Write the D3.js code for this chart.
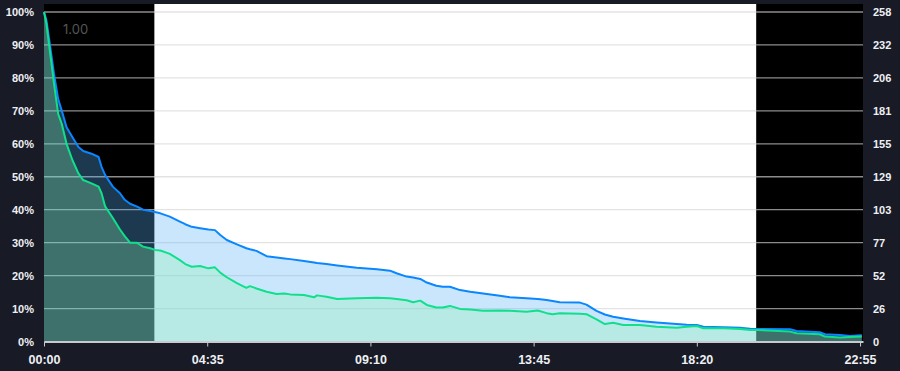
<!DOCTYPE html>
<html>
<head>
<meta charset="utf-8">
<script src="https://cdn.jsdelivr.net/npm/d3@7"></script>
<style>
  html, body { margin: 0; padding: 0; background: #181a25; }
  svg { display: block; font-family: Inter, "Noto Sans", sans-serif; }
  .axis text { fill: #eef0f4; font-weight: 600; }
  .axis path, .axis line { stroke: #c8cad0; }
</style>
</head>
<body>
<svg id="chart"></svg>
<script>
// time of day in minutes since 00:00
const minutes = [0, 4, 10, 17, 24, 30, 38, 48, 58, 66, 80, 92, 97, 103, 116, 128, 136, 145, 156, 167,
  179, 187, 196, 212, 229, 238, 249, 263, 277, 288, 297, 308, 325, 341, 347, 358, 375, 392, 405, 415,
  438, 455, 460, 476, 494, 527, 561, 583, 594, 611, 622, 634, 645, 661, 672, 684, 701, 718, 740, 768,
  785, 813, 832, 847, 857, 869, 903, 914, 931, 945, 959, 976, 1004, 1032, 1066, 1083, 1100, 1111, 1145, 1173,
  1190, 1201, 1257, 1268, 1307, 1316, 1341, 1358, 1378];
// blue series, % of 258
const totalPct = [100, 97.5, 90, 81, 73.5, 70, 65, 62, 59, 57.8, 57, 56, 53, 50.5, 47, 45, 43, 41.8, 41, 40,
  39.6, 39.3, 38.9, 37.9, 36.4, 35.6, 34.8, 34.4, 34.0, 33.8, 32.3, 30.8, 29.5, 28.3, 28.0, 27.5, 25.9, 25.5, 25.2, 25.0,
  24.4, 24.0, 23.8, 23.5, 23.1, 22.4, 21.9, 21.5, 20.7, 19.7, 19.4, 19.0, 17.9, 16.9, 16.6, 16.6, 15.6, 15.1, 14.6, 13.9,
  13.4, 13.1, 12.9, 12.6, 12.3, 11.9, 11.8, 11.2, 9.3, 8.2, 7.5, 7.0, 6.2, 5.8, 5.3, 5.1, 5.0, 4.5, 4.3, 4.2,
  3.9, 3.8, 3.7, 3.2, 2.8, 2.2, 2.0, 1.7, 1.9];
// green series, % of 258
const subsetPct = [100, 96.5, 88, 78, 69, 66, 60, 55, 51, 49, 48, 47, 45, 41, 37.5, 34, 32, 30, 30, 28.8,
  28.3, 27.8, 27.6, 26.6, 24.7, 23.5, 22.7, 22.9, 22.2, 22.5, 20.9, 19.5, 17.7, 16.3, 16.8, 16.1, 15.1, 14.4, 14.6, 14.3,
  14.1, 13.4, 14.0, 13.6, 12.9, 13.1, 13.3, 13.1, 12.9, 12.5, 11.9, 12.4, 11.1, 10.3, 10.3, 10.8, 9.9, 9.7, 9.3, 9.4,
  9.3, 9.0, 9.4, 8.6, 8.3, 8.6, 8.4, 8.3, 6.7, 5.3, 5.7, 5.0, 5.0, 4.5, 4.2, 4.5, 4.7, 4.0, 4.0, 3.8,
  3.5, 3.5, 3.0, 2.5, 2.2, 1.5, 1.2, 1.4, 1.5];

const xDomain = [0, 1380];
const darkBands = [[0, 186], [1200, 1380]];
const lightBands = [[186, 1200]];
const xTickMinutes = [0, 275, 550, 825, 1100, 1375];
const xTickLabels = ["00:00", "04:35", "09:10", "13:45", "18:20", "22:55"];
const pctTicks = [0, 10, 20, 30, 40, 50, 60, 70, 80, 90, 100];
const countMax = 258;
const cornerLabel = "1.00";

const data = minutes.map((m, i) => ({t: m, total: totalPct[i], subset: subsetPct[i]}));

const config = {
  containerWidth: 900,
  containerHeight: 371,
  margin: {top: 4, right: 37, bottom: 29.5, left: 44}
};
const width = config.containerWidth - config.margin.left - config.margin.right;
const height = config.containerHeight - config.margin.top - config.margin.bottom;

const svg = d3.select('#chart')
    .attr('width', config.containerWidth)
    .attr('height', config.containerHeight);

const chart = svg.append('g')
    .attr('transform', `translate(${config.margin.left},${config.margin.top})`);

const xScale = d3.scaleLinear().domain(xDomain).range([0, width]);
const yScale = d3.scaleLinear().domain([0, 100]).range([height, 8]);
const countScale = d3.scaleLinear().domain([0, countMax]).range([height, 8]);

// background bands
chart.selectAll('.band-dark')
    .data(darkBands)
    .join('rect')
      .attr('class', 'band-dark')
      .attr('x', d => xScale(d[0]))
      .attr('width', d => xScale(d[1]) - xScale(d[0]))
      .attr('y', 0)
      .attr('height', height)
      .attr('fill', '#000');

chart.selectAll('.band-light')
    .data(lightBands)
    .join('rect')
      .attr('class', 'band-light')
      .attr('x', d => xScale(d[0]))
      .attr('width', d => xScale(d[1]) - xScale(d[0]))
      .attr('y', 0)
      .attr('height', height)
      .attr('fill', '#fff');

// grid lines, coloured per band
const gridSets = [
  {bands: darkBands, color: '#8c8c8c'},
  {bands: lightBands, color: '#e3e3e3'}
];
gridSets.forEach(set => {
  set.bands.forEach(b => {
    chart.append('g')
        .selectAll('line')
        .data(pctTicks.filter(d => d > 0))
        .join('line')
          .attr('x1', xScale(b[0]))
          .attr('x2', xScale(b[1]))
          .attr('y1', d => yScale(d))
          .attr('y2', d => yScale(d))
          .attr('stroke', set.color)
          .attr('stroke-width', 1.3);
  });
});

// areas
const areaTotal = d3.area()
    .x(d => xScale(d.t))
    .y0(yScale(0))
    .y1(d => yScale(d.total));
const areaSubset = d3.area()
    .x(d => xScale(d.t))
    .y0(yScale(0))
    .y1(d => yScale(d.subset));

chart.append('path')
    .datum(data)
    .attr('d', areaTotal)
    .attr('fill', 'rgba(90,178,245,0.32)');

chart.append('path')
    .datum(data)
    .attr('d', areaSubset)
    .attr('fill', 'rgba(140,245,175,0.3)');

// lines
chart.append('path')
    .datum(data)
    .attr('d', d3.line().x(d => xScale(d.t)).y(d => yScale(d.total)))
    .attr('fill', 'none')
    .attr('stroke', '#0a86ff')
    .attr('stroke-width', 2)
    .attr('stroke-linejoin', 'round');

chart.append('path')
    .datum(data)
    .attr('d', d3.line().x(d => xScale(d.t)).y(d => yScale(d.subset)))
    .attr('fill', 'none')
    .attr('stroke', '#0fe08c')
    .attr('stroke-width', 2)
    .attr('stroke-linejoin', 'round');

// axes
const xAxis = d3.axisBottom(xScale)
    .tickValues(xTickMinutes)
    .tickFormat((d, i) => xTickLabels[i])
    .tickSize(5)
    .tickSizeOuter(0)
    .tickPadding(9);

chart.append('g')
    .attr('class', 'axis x-axis')
    .attr('transform', `translate(0,${height})`)
    .call(xAxis)
    .call(g => g.select('.domain').attr('stroke-width', 2))
    .call(g => g.selectAll('text').style('font-size', '12.5px'));

const yAxis = d3.axisLeft(yScale)
    .tickValues(pctTicks)
    .tickFormat(d => d + '%')
    .tickSize(0)
    .tickPadding(10);

chart.append('g')
    .attr('class', 'axis y-axis')
    .call(yAxis)
    .call(g => g.select('.domain').remove())
    .call(g => g.selectAll('text').style('font-size', '11px'));

const yAxisRight = d3.axisRight(countScale)
    .tickValues(pctTicks.map(p => countMax * p / 100))
    .tickFormat(d3.format('.0f'))
    .tickSize(0)
    .tickPadding(10);

chart.append('g')
    .attr('class', 'axis y-axis-right')
    .attr('transform', `translate(${width},0)`)
    .call(yAxisRight)
    .call(g => g.select('.domain').remove())
    .call(g => g.selectAll('text').style('font-size', '11px'));

// corner value label
chart.append('text')
    .attr('x', 19)
    .attr('y', 25)
    .attr('dy', '0.35em')
    .attr('fill', '#555')
    .style('font-size', '13px')
    .text(cornerLabel);
</script>
</body>
</html>
